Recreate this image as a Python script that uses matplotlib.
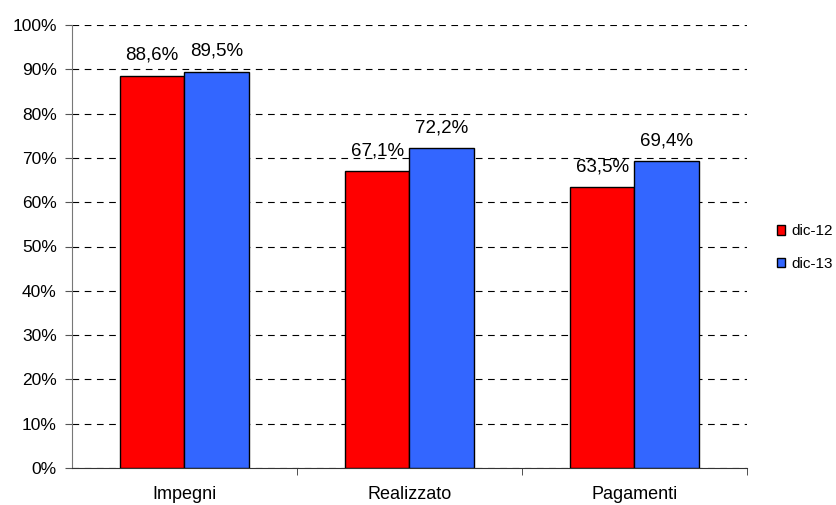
import numpy as np
import matplotlib.pyplot as plt
from matplotlib.ticker import MultipleLocator, FuncFormatter
from matplotlib.patches import Patch

plt.rcParams['font.family'] = ['Liberation Sans', 'DejaVu Sans']

categories = ["Impegni", "Realizzato", "Pagamenti"]
series = ["dic-12", "dic-13"]
dic12 = [88.6, 67.1, 63.5]
dic13 = [89.5, 72.2, 69.4]
colors = ["#FF0000", "#3366FF"]

fig = plt.figure(figsize=(8.37, 5.05), dpi=100)
ax = fig.add_axes([72/837, 1-468/505, 675/837, 443/505])

x = np.arange(len(categories))
w = 0.287
for i, vals in enumerate([dic12, dic13]):
    off = (i - 0.5) * w
    bars = ax.bar(x + off, vals, w, color=colors[i], edgecolor='black', linewidth=1, zorder=3)
    for b, v in zip(bars, vals):
        ax.text(b.get_x() + b.get_width()/2, v + 2.6, ("%.1f%%" % v).replace('.', ','),
                ha='center', va='bottom', fontsize=13.5)

ax.set_xlim(-0.5, 2.5)
ax.set_ylim(0, 100)
ax.yaxis.set_major_locator(MultipleLocator(10))
ax.yaxis.set_major_formatter(FuncFormatter(lambda v, p: "%d%%" % v))
ax.set_xticks(x)
ax.set_xticklabels(categories)
ax.set_xticks([0.5, 1.5, 2.5], minor=True)
ax.tick_params(axis='x', which='major', length=0, pad=13, labelsize=13)
ax.tick_params(axis='x', which='minor', length=5, color='#333333')
ax.tick_params(axis='y', length=5, pad=6, color='#555555', labelsize=12.5)
ax.yaxis.grid(True, linestyle=(0, (6, 5)), color='black', linewidth=0.8, zorder=0)
gl = ax.yaxis.get_gridlines()
gl[-1].set_color('#888888')
ax.set_axisbelow(True)
for s in ['top', 'right']:
    ax.spines[s].set_visible(False)
ax.spines['left'].set_color('#777777')
ax.spines['bottom'].set_color('#333333')

handles = [Patch(facecolor=colors[i], edgecolor='black', label=series[i]) for i in range(2)]
fig.legend(handles=handles, loc='center left', bbox_to_anchor=(777/837, 1-247.5/505),
           frameon=False, fontsize=11, handlelength=0.55, handleheight=0.55,
           handletextpad=0.4, labelspacing=1.2, borderpad=0, borderaxespad=0)

fig.savefig("out.png", dpi=100)
